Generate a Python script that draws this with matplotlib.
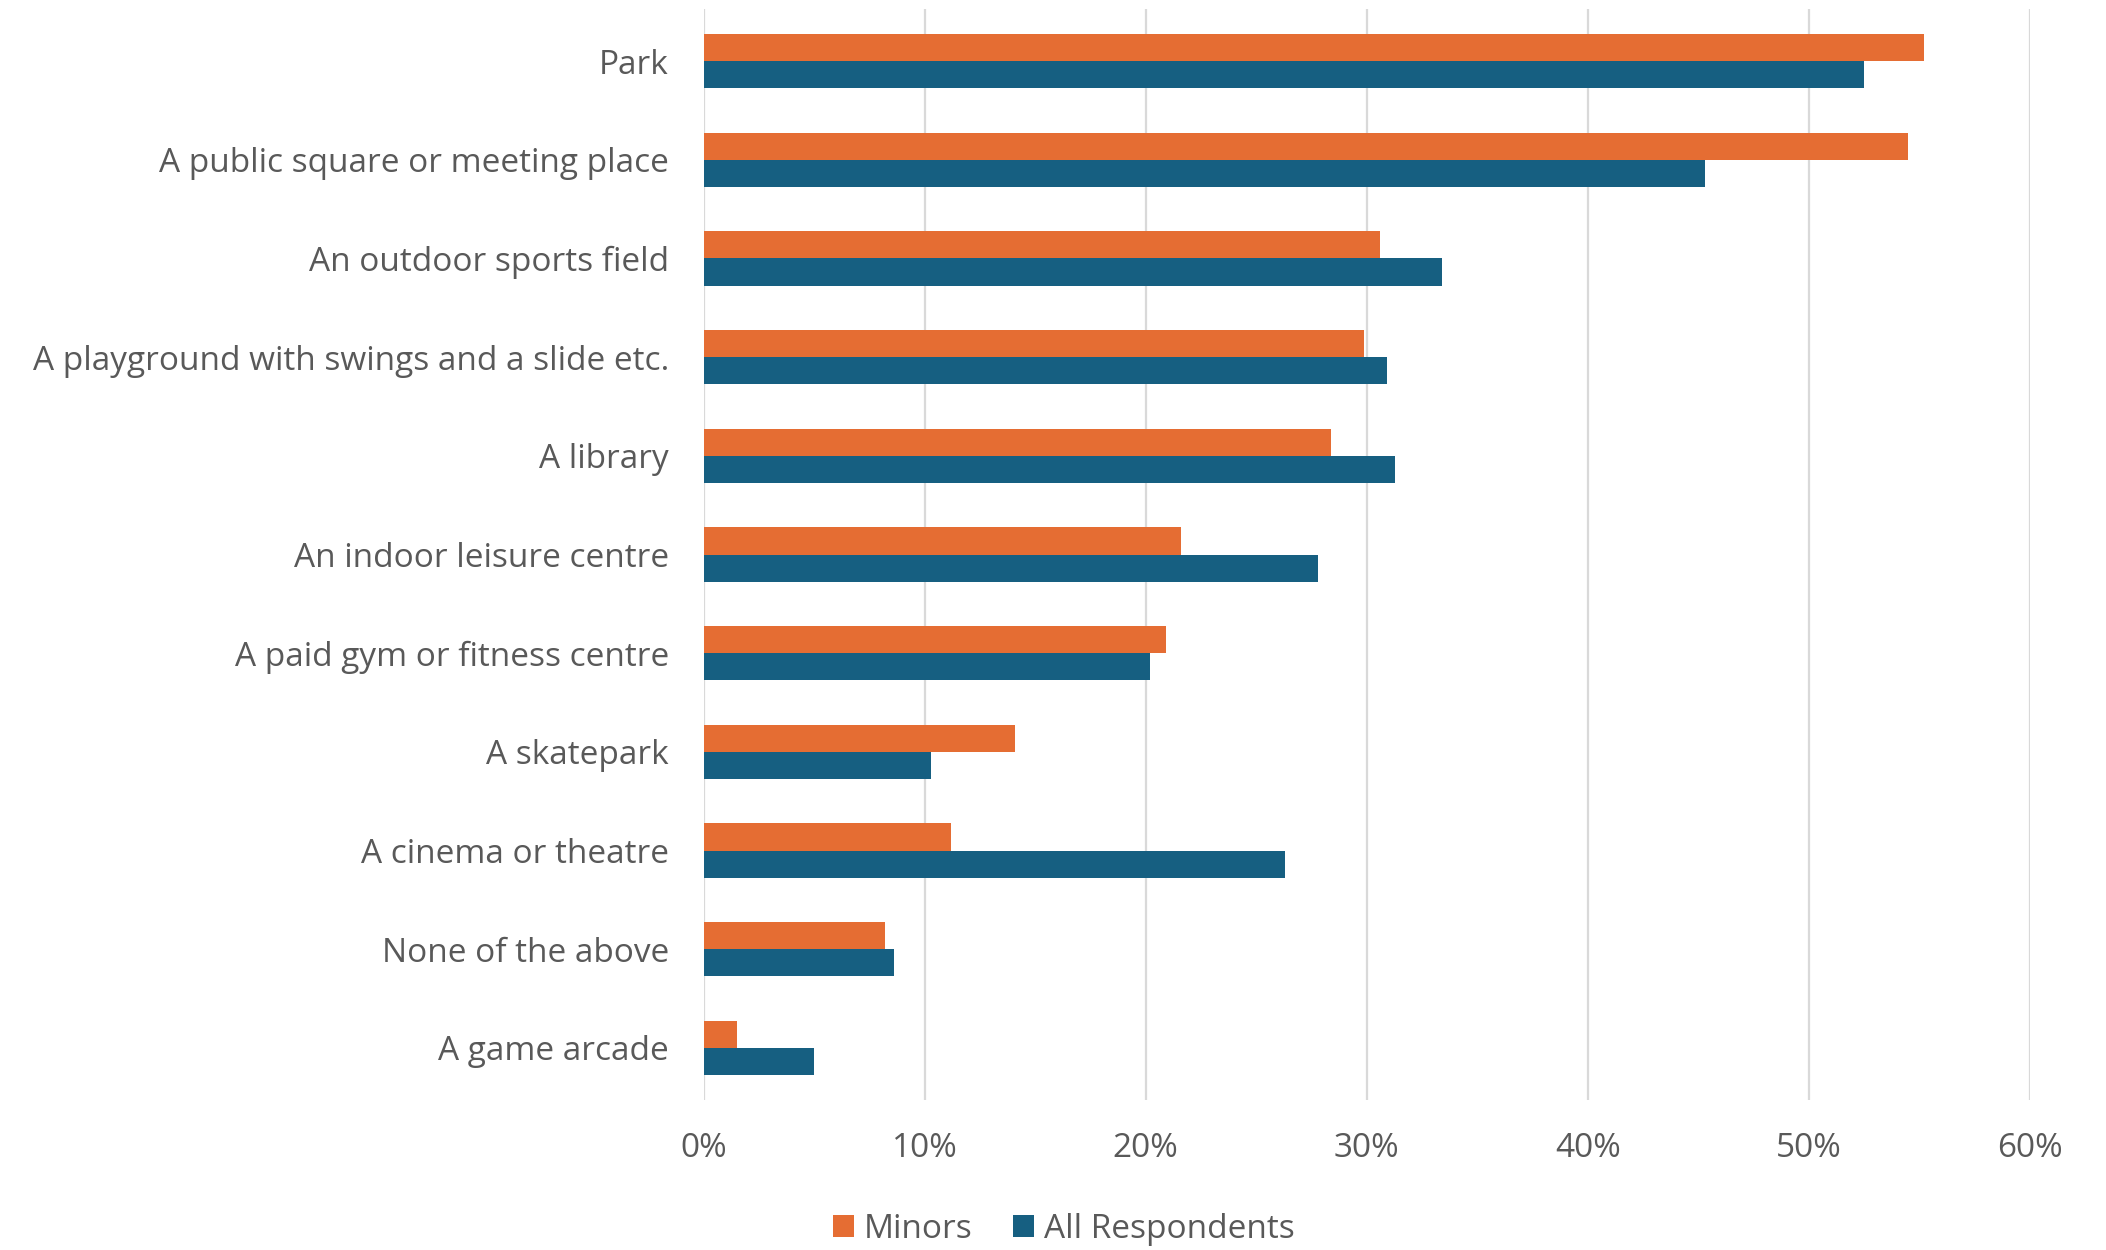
import numpy as np
import matplotlib.pyplot as plt
from matplotlib.ticker import PercentFormatter

plt.rcParams['font.family'] = ['Open Sans', 'DejaVu Sans']

places = ["Park",
          "A public square or meeting place",
          "An outdoor sports field",
          "A playground with swings and a slide etc.",
          "A library",
          "An indoor leisure centre",
          "A paid gym or fitness centre",
          "A skatepark",
          "A cinema or theatre",
          "None of the above",
          "A game arcade"]
minors = [55.2, 54.5, 30.6, 29.9, 28.4, 21.6, 20.9, 14.1, 11.2, 8.2, 1.5]
all_resp = [52.5, 45.3, 33.4, 30.9, 31.3, 27.8, 20.2, 10.3, 26.3, 8.6, 5.0]
xticks = [0, 10, 20, 30, 40, 50, 60]

orange = '#E56D33'
blue = '#165F81'
grey_txt = '#595959'

fig = plt.figure(figsize=(21.06, 12.5), dpi=100)
ax = fig.add_axes([0.3341, 0.12, 0.6297, 0.8728])

y = np.arange(len(places))
h = 0.275
ax.barh(y - h/2, minors, height=h, color=orange, label='Minors', zorder=3)
ax.barh(y + h/2, all_resp, height=h, color=blue, label='All Respondents', zorder=3)

ax.set_ylim(len(places) - 0.473, -0.527)
ax.set_xlim(0, 60)
ax.set_xticks(xticks)
ax.xaxis.set_major_formatter(PercentFormatter(decimals=0))
ax.set_yticks(y)
ax.set_yticklabels(places)

ax.grid(axis='x', color='#D9D9D9', linewidth=1.6, zorder=0)
for s in ax.spines.values():
    s.set_visible(False)
ax.tick_params(axis='both', length=0, labelsize=24, labelcolor=grey_txt)
ax.tick_params(axis='y', pad=25)
ax.tick_params(axis='x', pad=23)

fig.legend(loc='center', bbox_to_anchor=(0.505, 0.0168), ncol=2, frameon=False,
           fontsize=24, labelcolor=grey_txt, handlelength=0.63, handleheight=0.63,
           handletextpad=0.3, columnspacing=1.2)

fig.savefig('out.png', dpi=100)
